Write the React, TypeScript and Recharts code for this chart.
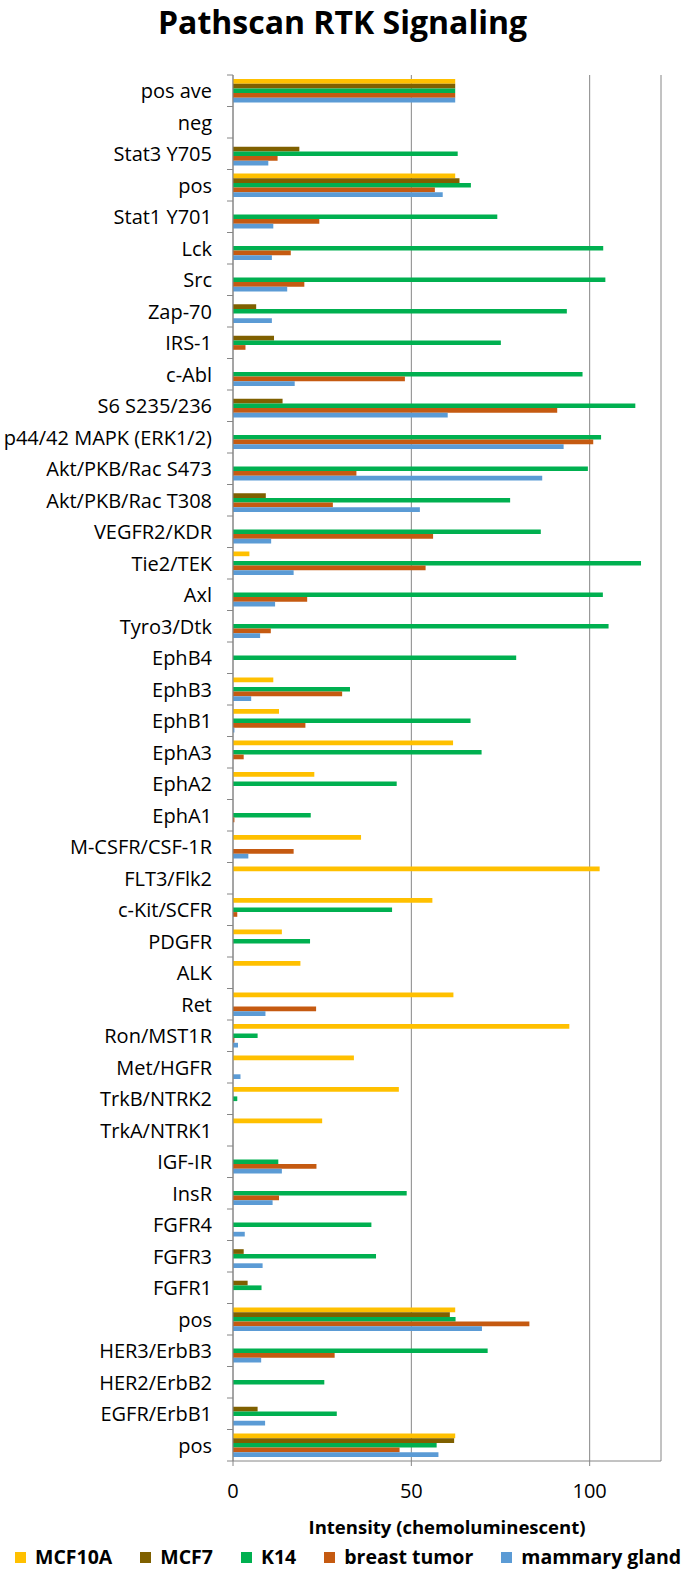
import { BarChart, Bar, XAxis, YAxis, CartesianGrid } from 'recharts';

// rows top -> bottom, as in the blot layout
const categories = [
  'pos ave', 'neg', 'Stat3 Y705', 'pos', 'Stat1 Y701', 'Lck', 'Src', 'Zap-70', 'IRS-1', 'c-Abl',
  'S6 S235/236', 'p44/42 MAPK (ERK1/2)', 'Akt/PKB/Rac S473', 'Akt/PKB/Rac T308', 'VEGFR2/KDR',
  'Tie2/TEK', 'Axl', 'Tyro3/Dtk', 'EphB4', 'EphB3', 'EphB1', 'EphA3', 'EphA2', 'EphA1',
  'M-CSFR/CSF-1R', 'FLT3/Flk2', 'c-Kit/SCFR', 'PDGFR', 'ALK', 'Ret', 'Ron/MST1R', 'Met/HGFR',
  'TrkB/NTRK2', 'TrkA/NTRK1', 'IGF-IR', 'InsR', 'FGFR4', 'FGFR3', 'FGFR1', 'pos', 'HER3/ErbB3',
  'HER2/ErbB2', 'EGFR/ErbB1', 'pos',
];

const mcf10a = [
  62.3, 0, 0, 62.3, 0, 0, 0, 0, 0, 0,
  0, 0, 0, 0, 0, 4.6, 0, 0, 0, 11.3,
  12.9, 61.7, 22.8, 0, 35.9, 102.8, 55.9, 13.7, 18.9, 61.8,
  94.3, 33.9, 46.5, 25.0, 0, 0, 0, 0, 0, 62.3,
  0, 0, 0, 62.3,
];
const mcf7 = [
  62.3, 0, 18.6, 63.5, 0, 0, 0, 6.5, 11.5, 0,
  13.9, 0, 0, 9.2, 0, 0, 0, 0, 0, 0,
  0, 0, 0, 0, 0, 0, 0, 0, 0, 0,
  0, 0, 0, 0, 0, 0, 0, 3.0, 4.1, 60.8,
  0, 0, 6.9, 62.0,
];
const k14 = [
  62.3, 0, 63.0, 66.7, 74.1, 103.8, 104.4, 93.6, 75.1, 98.0,
  112.8, 103.2, 99.5, 77.7, 86.3, 114.4, 103.7, 105.3, 79.4, 32.8,
  66.6, 69.7, 45.9, 21.8, 0, 0, 44.6, 21.6, 0, 0,
  6.9, 0, 1.2, 0, 12.7, 48.7, 38.8, 40.1, 8.0, 62.4,
  71.4, 25.6, 29.1, 57.1,
];
const breastTumor = [
  62.3, 0, 12.5, 56.6, 24.2, 16.2, 20.0, 0, 3.5, 48.2,
  90.9, 101.0, 34.6, 28.0, 56.1, 54.0, 20.8, 10.6, 0, 30.6,
  20.3, 3.0, 0, 0.4, 17.0, 0, 1.2, 0, 0, 23.3,
  0.4, 0, 0, 0, 23.4, 12.9, 0, 0, 0, 83.1,
  28.5, 0, 0, 46.7,
];
const mammaryGland = [
  62.3, 0, 9.9, 58.8, 11.3, 10.9, 15.2, 10.9, 0, 17.3,
  60.2, 92.7, 86.7, 52.4, 10.7, 17.0, 11.8, 7.6, 0, 5.1,
  0.4, 0, 0, 0, 4.3, 0, 0, 0, 0, 9.1,
  1.4, 2.1, 0, 0, 13.7, 11.1, 3.3, 8.3, 0, 69.8,
  7.9, 0, 9.0, 57.6,
];

const xTicks = [0, 50, 100];

const series = [
  { key: 'mcf10a', name: 'MCF10A', color: '#FFC000', values: mcf10a },
  { key: 'mcf7', name: 'MCF7', color: '#7F6000', values: mcf7 },
  { key: 'k14', name: 'K14', color: '#00B050', values: k14 },
  { key: 'bt', name: 'breast tumor', color: '#C55A11', values: breastTumor },
  { key: 'mg', name: 'mammary gland', color: '#5B9BD5', values: mammaryGland },
];

const data = categories.map((name, i) => {
  const row: any = { idx: i, name };
  series.forEach((s) => (row[s.key] = s.values[i]));
  return row;
});

const W = 685;
const H = 1572;
const MARGIN = { top: 75, right: 24, bottom: 71, left: 0 };
const X_AXIS_H = 40;
const Y_AXIS_W = 233;
const BAND = (H - MARGIN.top - MARGIN.bottom - X_AXIS_H) / categories.length;
const FONT = '"Open Sans", sans-serif';
const GRAY = '#868686';

function CategoryTick({ x, y, payload, index }: any) {
  const half = BAND / 2;
  const ax = MARGIN.left + Y_AXIS_W;
  return (
    <g>
      {index === 0 && <line x1={ax - 6} x2={ax} y1={y - half} y2={y - half} stroke={GRAY} />}
      <line x1={ax - 6} x2={ax} y1={y + half} y2={y + half} stroke={GRAY} />
      <text x={x} y={y} textAnchor="end" dominantBaseline="central" fontFamily={FONT} fontSize={20} fill="#000">
        {categories[payload.value]}
      </text>
    </g>
  );
}

export default function App() {
  return (
    <div style={{ position: 'absolute', left: 0, top: 0, width: W, height: H, background: '#fff', fontFamily: FONT }}>
      <div style={{ position: 'absolute', left: 0, top: 0, width: W, textAlign: 'center', fontSize: 32, lineHeight: '44px', fontWeight: 700, color: '#000' }}>
        Pathscan RTK Signaling
      </div>

      <BarChart
        width={W}
        height={H}
        data={data}
        layout="vertical"
        margin={MARGIN}
        barCategoryGap={4}
        barGap={0}
        barSize={4.7}
      >
        <CartesianGrid horizontal={false} stroke={GRAY} />
        <XAxis
          type="number"
          domain={[0, 120]}
          ticks={xTicks}
          height={X_AXIS_H}
          axisLine={{ stroke: GRAY }}
          tickLine={{ stroke: GRAY }}
          tickSize={5}
          tickMargin={18}
          tick={{ fontSize: 20, fill: '#000', fontFamily: FONT }}
        />
        <YAxis
          type="category"
          dataKey="idx"
          width={Y_AXIS_W}
          interval={0}
          axisLine={{ stroke: GRAY }}
          tickLine={false}
          tickSize={6}
          tickMargin={15}
          tick={(p: any) => <CategoryTick {...p} />}
        />
        {series.map((s) => (
          <Bar key={s.key} dataKey={s.key} name={s.name} fill={s.color} isAnimationActive={false} />
        ))}
      </BarChart>

      <div style={{ position: 'absolute', left: 0, top: 1517, width: W, paddingLeft: 233, paddingRight: 24, boxSizing: 'border-box', textAlign: 'center', fontSize: 18.5, lineHeight: '19px', fontWeight: 700, color: '#000' }}>
        Intensity (chemoluminescent)
      </div>

      <div style={{ position: 'absolute', left: 15, top: 1547, display: 'flex', gap: 28, fontSize: 19.5, lineHeight: '20px', fontWeight: 700, color: '#000', whiteSpace: 'nowrap' }}>
        {series.map((s) => (
          <div key={s.key} style={{ display: 'flex', alignItems: 'center', gap: 9 }}>
            <span style={{ display: 'inline-block', width: 11, height: 11, background: s.color }} />
            <span>{s.name}</span>
          </div>
        ))}
      </div>
    </div>
  );
}
